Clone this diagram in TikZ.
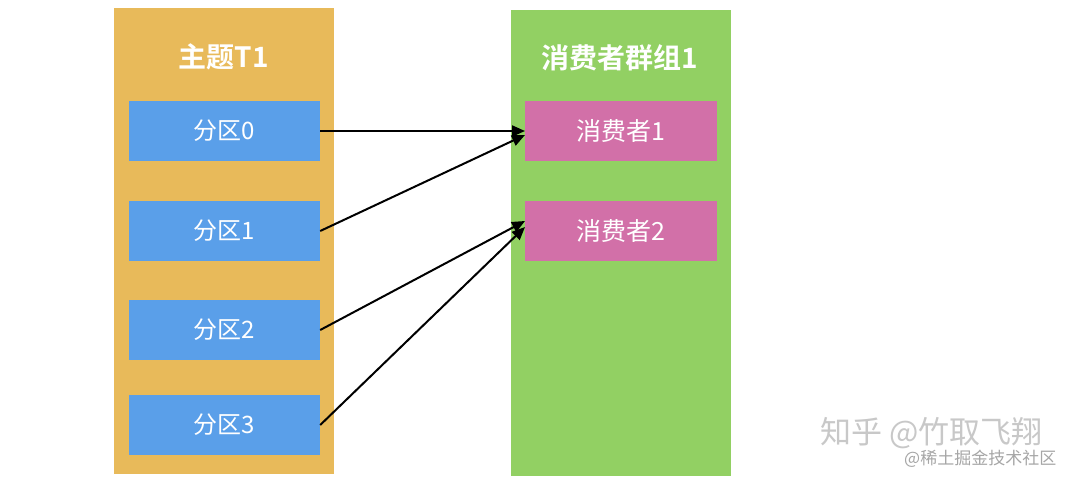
\documentclass[tikz,border=0pt]{standalone}
\usepackage{fontspec}
\setmainfont{Noto Sans CJK SC}
\newfontfamily\cjkb{Noto Sans CJK SC Bold}
\usetikzlibrary{arrows.meta}
\definecolor{topicorange}{HTML}{E8BA5A}
\definecolor{groupgreen}{HTML}{92D063}
\definecolor{partblue}{HTML}{5A9FE9}
\definecolor{conspink}{HTML}{D270A8}
\definecolor{wmgray}{HTML}{C8C8C8}
\tikzset{
  panel/.style={draw=none,minimum width=220pt,minimum height=466pt,inner sep=0pt},
  partbox/.style={fill=partblue,minimum width=191pt,minimum height=60pt,inner sep=0pt,text=white,font=\fontsize{24}{28}\selectfont},
  consbox/.style={fill=conspink,minimum width=192pt,minimum height=60pt,inner sep=0pt,text=white,font=\fontsize{25}{28}\selectfont},
  paneltitle/.style={text=white,font=\cjkb\fontsize{28}{32}\selectfont,inner sep=0pt},
  link/.style={draw=black,line width=2pt,-{Triangle[length=13pt,width=11pt]}},
  wm/.style={text=wmgray,inner sep=0pt}
}
\begin{document}
\begin{tikzpicture}[x=1pt,y=-1pt]
\useasboundingbox (0,0) rectangle (1080,482);
\fill[white] (0,0) rectangle (1080,482);
\node[panel,fill=topicorange] (topic) at (224,241) {};
\node[panel,fill=groupgreen] (group) at (621,243) {};
\node[paneltitle] (ttitle) at (224,57) {主题T1};
\node[paneltitle] (gtitle) at (620,58) {消费者群组1};
\node[partbox] (p0) at (224.5,131) {分区0};
\node[partbox] (p1) at (224.5,231) {分区1};
\node[partbox] (p2) at (224.5,330) {分区2};
\node[partbox] (p3) at (224.5,425) {分区3};
\node[consbox] (c1) at (621,131) {消费者1};
\node[consbox] (c2) at (621,231) {消费者2};
\coordinate (c1a) at (525,131);
\coordinate (c1b) at (525,135);
\coordinate (c2a) at (525,221);
\coordinate (c2b) at (525,227);
\draw[link] (p0.east) -- (c1a);
\draw[link] (p1.east) -- (c1b);
\draw[link] (p2.east) -- (c2a);
\draw[link] (p3.east) -- (c2b);
\node[wm,font=\fontsize{31}{34}\selectfont,anchor=west] (wm1) at (820,433) {知乎 @竹取飞翔};
\node[wm,font=\fontsize{17}{20}\selectfont,anchor=west,text=gray!70] (wm2) at (904,459) {@稀土掘金技术社区};
\end{tikzpicture}
\end{document}
